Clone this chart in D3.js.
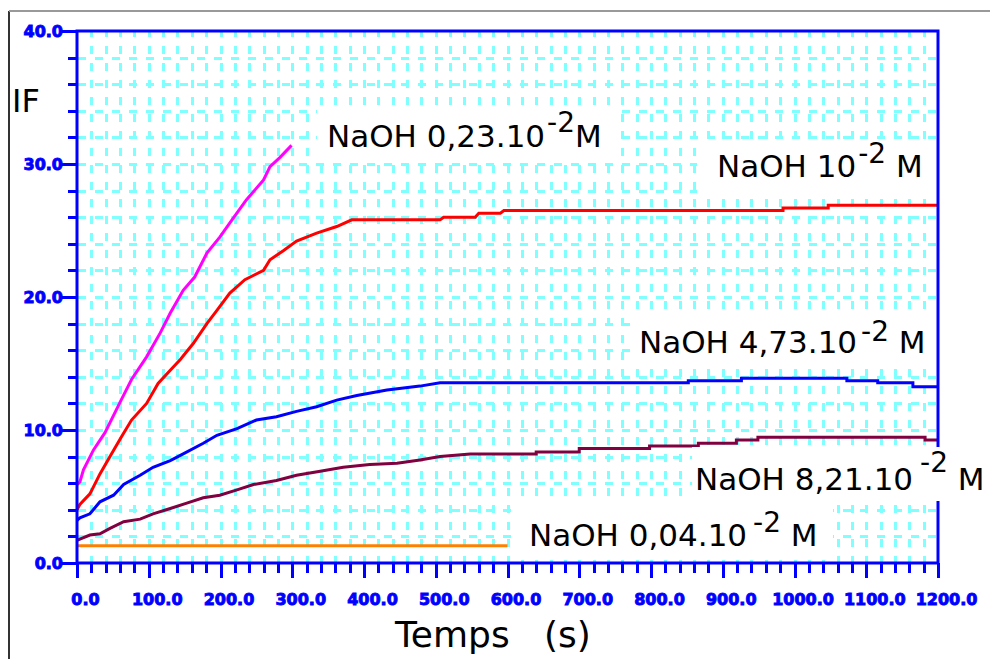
<!DOCTYPE html>
<html lang="fr">
<head>
<meta charset="UTF-8">
<title>IF = f(Temps)</title>
<style>
  body { margin: 0; background: #fff; }
  svg { display: block; }
  .axis text { font-family: "DejaVu Sans", sans-serif; font-weight: bold; font-size: 16px; fill: #0000ff; stroke: #0000ff; stroke-width: 0.9px; }
  .lbl { font-family: "DejaVu Sans", sans-serif; fill: #000; white-space: pre; }
</style>
</head>
<body>
<svg id="chart"></svg>
<script src="https://cdnjs.cloudflare.com/ajax/libs/d3/7.8.5/d3.min.js"></script>
<script>
// --- data (t in s, IF) ---
const magentaT = [0, 4, 9, 23, 39, 62, 76, 97, 116, 130, 148, 164, 181, 199, 216, 236, 260, 269, 283, 299];
const magentaV = [5.9, 6.1, 7.0, 8.5, 9.8, 12.3, 13.8, 15.5, 17.3, 18.8, 20.5, 21.5, 23.3, 24.5, 25.8, 27.3, 28.8, 29.8, 30.5, 31.4];

const redT = [0, 4, 18, 32, 48, 62, 76, 97, 113, 130, 144, 162, 181, 195, 213, 234, 260, 269, 288, 306, 334, 362, 383, 506, 511, 555, 560, 590, 595, 984, 984, 1047, 1047, 1200];
const redV = [4.0, 4.4, 5.2, 6.7, 8.2, 9.5, 10.75, 12.0, 13.5, 14.5, 15.3, 16.5, 18.0, 19.0, 20.3, 21.3, 22.0, 22.8, 23.5, 24.2, 24.8, 25.3, 25.8, 25.8, 26.0, 26.0, 26.3, 26.3, 26.5, 26.5, 26.7, 26.7, 26.9, 26.9];

const blueT = [0, 4, 18, 32, 51, 65, 88, 106, 130, 148, 176, 195, 223, 250, 278, 306, 334, 362, 390, 432, 478, 506, 852, 852, 926, 926, 1073, 1073, 1116, 1116, 1165, 1165, 1200];
const blueV = [3.2, 3.4, 3.7, 4.6, 5.1, 5.9, 6.6, 7.2, 7.7, 8.2, 9.0, 9.6, 10.1, 10.75, 11.0, 11.4, 11.75, 12.25, 12.6, 13.0, 13.3, 13.55, 13.55, 13.7, 13.7, 13.9, 13.9, 13.7, 13.7, 13.55, 13.55, 13.25, 13.25];

const purpleT = [0, 4, 18, 32, 46, 65, 88, 106, 130, 153, 176, 199, 223, 246, 278, 306, 339, 371, 408, 446, 478, 506, 548, 640, 640, 700, 700, 798, 798, 866, 866, 919, 919, 949, 949, 1182, 1182, 1200];
const purpleV = [1.7, 1.8, 2.1, 2.2, 2.6, 3.1, 3.3, 3.7, 4.1, 4.5, 4.9, 5.1, 5.5, 5.9, 6.2, 6.6, 6.9, 7.2, 7.4, 7.5, 7.75, 8.0, 8.2, 8.2, 8.35, 8.35, 8.6, 8.6, 8.8, 8.8, 9.0, 9.0, 9.25, 9.25, 9.45, 9.45, 9.25, 9.25];

const orangeT = [0, 600];
const orangeV = [1.3, 1.3];

const xMajor = [0, 100, 200, 300, 400, 500, 600, 700, 800, 900, 1000, 1100, 1200];
const yMajor = [0, 10, 20, 30, 40];

const labelMain = ["NaOH 0,23.10", "NaOH 10", "NaOH 4,73.10", "NaOH 8,21.10", "NaOH 0,04.10"];
const labelSup = ["-2", "-2", "-2", "-2", "-2"];
const labelUnit = ["M", " M", " M", " M", " M"];

// --- layout ---
const width = 990, height = 659;
const svg = d3.select("#chart").attr("width", width).attr("height", height);

const x = d3.scaleLinear().domain([0, 1200]).range([77, 938]);
const y = d3.scaleLinear().domain([0, 40]).range([563, 31]);

// outer window frame
svg.append("line").attr("x1", 9).attr("x2", 9).attr("y1", 11).attr("y2", height)
  .attr("stroke", "#333").attr("stroke-width", 2);
svg.append("line").attr("x1", 9).attr("x2", width).attr("y1", 11).attr("y2", 11)
  .attr("stroke", "#999").attr("stroke-width", 2);

// dashed cyan grid
const grid = svg.append("g").attr("stroke", "#80ffff").attr("stroke-width", 3)
  .attr("shape-rendering", "crispEdges");
grid.selectAll(".gx").data(d3.range(20, 1200, 20)).join("line")
  .attr("x1", d => Math.round(x(d))).attr("x2", d => Math.round(x(d)))
  .attr("y1", y(40)).attr("y2", y(0))
  .attr("stroke-dasharray", "8,9").attr("stroke-dashoffset", 2);
grid.selectAll(".gy").data(d3.range(2, 40, 2)).join("line")
  .attr("y1", d => Math.round(y(d))).attr("y2", d => Math.round(y(d)))
  .attr("x1", x(0)).attr("x2", x(1200))
  .attr("stroke-dasharray", "8,9").attr("stroke-dashoffset", -1);

// white boxes behind the labels (box 4 also cuts the right axis, drawn later)
const boxes = [
  [317, 110, 300, 50],
  [697, 145, 239, 50],
  [633, 318, 303, 49],
  [692, 447, 298, 54],
  [512, 500, 321, 60]
];
svg.append("g").selectAll("rect").data(boxes.filter((b, i) => i !== 3)).join("rect")
  .attr("x", d => d[0]).attr("y", d => d[1]).attr("width", d => d[2]).attr("height", d => d[3])
  .attr("fill", "#fff");

// curves
const series = [
  { t: orangeT, v: orangeV, color: "#ff8000" },
  { t: purpleT, v: purpleV, color: "#800040" },
  { t: blueT, v: blueV, color: "#0000ff" },
  { t: redT, v: redV, color: "#ff0000" },
  { t: magentaT, v: magentaV, color: "#ff00ff" }
];
const line = d3.line().x(d => x(d[0])).y(d => y(d[1]));
svg.append("g").selectAll("path").data(series).join("path")
  .attr("d", s => line(s.t.map((t, i) => [t, s.v[i]])))
  .attr("fill", "none")
  .attr("stroke", s => s.color)
  .attr("stroke-width", 3)
  .attr("stroke-linejoin", "miter");

// tick marks (minor every 20 s / 2 units, major every 100 s / 10 units)
const ticks = svg.append("g").attr("stroke", "#0000ff").attr("stroke-width", 3)
  .attr("shape-rendering", "crispEdges");
ticks.selectAll(".tx").data(d3.range(0, 1201, 20)).join("line")
  .attr("x1", d => Math.round(x(d))).attr("x2", d => Math.round(x(d)))
  .attr("y1", y(0)).attr("y2", d => y(0) + (d % 100 === 0 ? 15 : 10));
ticks.selectAll(".ty").data(d3.range(0, 41, 2)).join("line")
  .attr("y1", d => Math.round(y(d))).attr("y2", d => Math.round(y(d)))
  .attr("x1", x(0)).attr("x2", d => x(0) - (d % 10 === 0 ? 15 : 9));

// axis labels via d3 axes
const gx = svg.append("g").attr("class", "axis").attr("transform", `translate(0,${y(0)})`)
  .call(d3.axisBottom(x).tickValues(xMajor).tickSize(0).tickFormat(d3.format(".1f")));
gx.select(".domain").remove();
gx.selectAll("text").attr("y", 31).attr("dy", "0.71em").attr("dx", 8);

const gy = svg.append("g").attr("class", "axis").attr("transform", `translate(${x(0)},0)`)
  .call(d3.axisLeft(y).tickValues(yMajor).tickSize(0).tickFormat(d3.format(".1f")));
gy.select(".domain").remove();
gy.selectAll("text").attr("x", -14).attr("dy", "0.35em");

// plot frame
svg.append("rect")
  .attr("x", x(0)).attr("y", y(40))
  .attr("width", x(1200) - x(0)).attr("height", y(0) - y(40))
  .attr("fill", "none").attr("stroke", "#0000ff").attr("stroke-width", 3);

// box 4 hides part of the right axis
svg.append("rect").attr("x", boxes[3][0]).attr("y", boxes[3][1])
  .attr("width", boxes[3][2]).attr("height", boxes[3][3]).attr("fill", "#fff");

// axis titles
svg.append("text").attr("class", "lbl").attr("x", 12).attr("y", 112)
  .style("font-size", "32px").text("IF");
svg.append("text").attr("class", "lbl").attr("x", 395).attr("y", 647)
  .style("font-size", "36px").text("Temps   (s)");

// series labels
const labelPos = [
  { x: 327, y: 147, supDx: 2, raise: 15 },
  { x: 717, y: 177, supDx: 2, raise: 14 },
  { x: 639, y: 353, supDx: 4, raise: 12 },
  { x: 695, y: 490, supDx: 7, raise: 18 },
  { x: 529, y: 546, supDx: 6, raise: 14 }
];
labelMain.forEach((m, i) => {
  const p = labelPos[i];
  const t = svg.append("text").attr("class", "lbl").attr("x", p.x).attr("y", p.y)
    .style("font-size", "31px");
  t.append("tspan").text(m);
  t.append("tspan").attr("dx", p.supDx).attr("dy", -p.raise).style("font-size", "28px").text(labelSup[i]);
  t.append("tspan").attr("dy", p.raise).text(labelUnit[i]);
});
</script>
</body>
</html>
